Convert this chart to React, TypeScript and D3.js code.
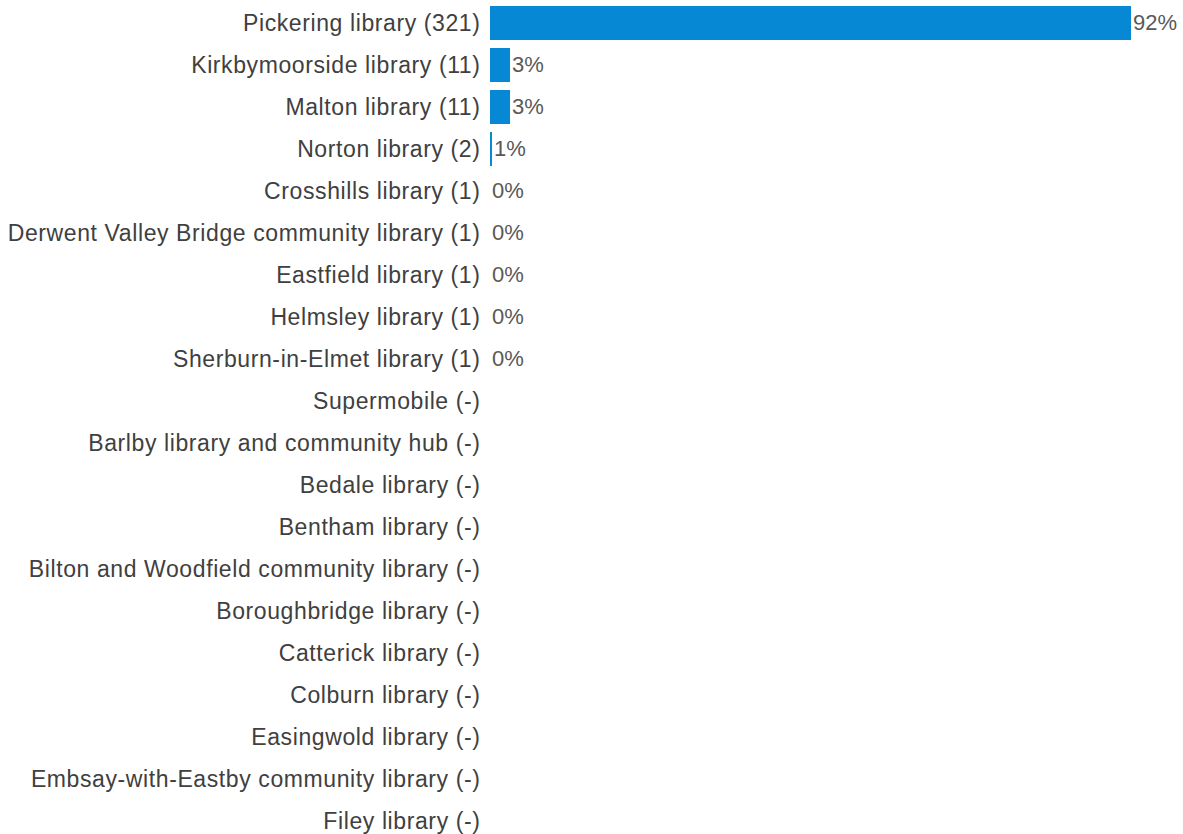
import React, { useEffect, useRef } from "react";
import * as d3 from "d3";

const libraries = [
  "Pickering library",
  "Kirkbymoorside library",
  "Malton library",
  "Norton library",
  "Crosshills library",
  "Derwent Valley Bridge community library",
  "Eastfield library",
  "Helmsley library",
  "Sherburn-in-Elmet library",
  "Supermobile",
  "Barlby library and community hub",
  "Bedale library",
  "Bentham library",
  "Bilton and Woodfield community library",
  "Boroughbridge library",
  "Catterick library",
  "Colburn library",
  "Easingwold library",
  "Embsay-with-Eastby community library",
  "Filey library",
];

// null = no responses ("-")
const counts: (number | null)[] = [
  321, 11, 11, 2, 1, 1, 1, 1, 1,
  null, null, null, null, null, null, null, null, null, null, null,
];

const percents: (string | null)[] = [
  "92%", "3%", "3%", "1%", "0%", "0%", "0%", "0%", "0%",
  null, null, null, null, null, null, null, null, null, null, null,
];

const W = 1183;
const H = 834;

export default function App() {
  const ref = useRef<SVGSVGElement>(null);

  useEffect(() => {
    const svg = d3.select(ref.current);
    svg.selectAll("*").remove();

    const rows = libraries.map((name, i) => ({
      name,
      count: counts[i],
      pct: percents[i],
    }));

    const x0 = 490;
    const vals = counts.filter((c) => c != null) as number[];
    const x = d3
      .scaleLinear()
      .domain([d3.min(vals)!, d3.max(vals)!])
      .range([0, 641]);

    const y = d3
      .scaleBand()
      .domain(libraries)
      .range([2, 842])
      .paddingInner(8 / 42)
      .paddingOuter(4 / 42);

    const font = "'Liberation Sans', Arial, sans-serif";

    const g = svg.append("g");

    const row = g
      .selectAll(".row")
      .data(rows)
      .enter()
      .append("g")
      .attr("class", "row")
      .attr("transform", (d) => `translate(0,${y(d.name)})`);

    row
      .append("text")
      .attr("x", x0 - 9.5)
      .attr("y", y.bandwidth() / 2)
      .attr("dy", "0.36em")
      .attr("text-anchor", "end")
      .style("font-family", font)
      .style("font-size", "23px")
      .style("letter-spacing", "0.6px")
      .style("fill", "#404040")
      .text((d) => `${d.name} (${d.count == null ? "-" : d.count})`);

    const filled = row.filter((d) => d.count != null);

    filled
      .append("rect")
      .attr("x", x0)
      .attr("y", 0)
      .attr("height", y.bandwidth())
      .attr("width", (d) => x(d.count as number))
      .attr("fill", "#0788d4");

    filled
      .append("text")
      .attr("x", (d) => x0 + x(d.count as number) + 2)
      .attr("y", y.bandwidth() / 2)
      .attr("dy", "0.33em")
      .style("font-family", font)
      .style("font-size", "22px")
      .style("fill", "#595959")
      .text((d) => d.pct as string);
  }, []);

  return (
    <svg
      ref={ref}
      width={W}
      height={H}
      style={{ position: "absolute", left: 0, top: 0, background: "#fff" }}
    ></svg>
  );
}
